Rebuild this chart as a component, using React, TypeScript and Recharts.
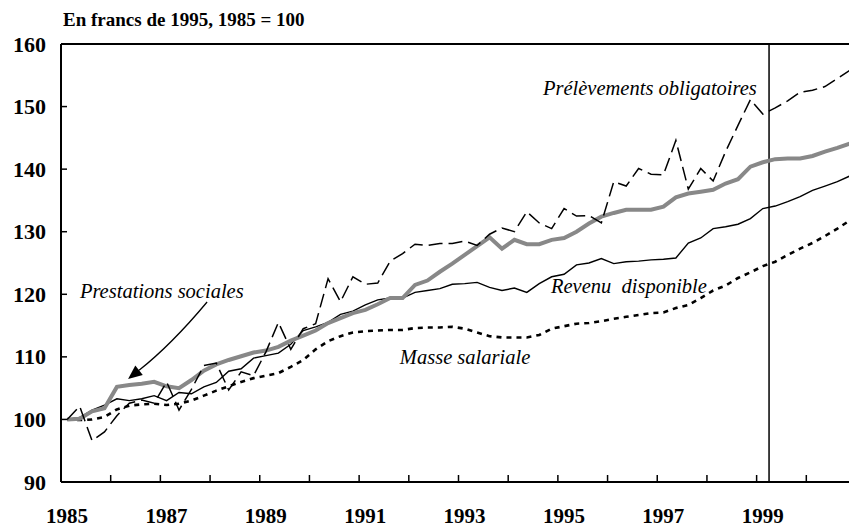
import React from 'react';
import { LineChart, Line, XAxis, YAxis, ReferenceLine, ReferenceDot } from 'recharts';

const years = [1985, 1986, 1987, 1988, 1989, 1990, 1991, 1992, 1993, 1994, 1995, 1996, 1997, 1998, 1999, 2000];
const quarterNames = ['T1', 'T2', 'T3', 'T4'];

const prelevements = [
  100, 102.1, 96.6, 98.0, 100.6, 102.6, 103.1, 102.6, 106.0, 101.5, 104.8, 108.6, 109.0, 104.7, 107.6, 107.0,
  110.8, 115.5, 111.2, 114.5, 115.3, 122.5, 118.8, 122.8, 121.6, 121.8, 125.3, 126.5, 128.0, 127.8, 128.1, 128.1,
  128.5, 127.8, 129.6, 130.6, 130.0, 133.2, 131.4, 130.5, 133.7, 132.5, 132.6, 131.4, 138.0, 137.3, 140.1, 139.2,
  139.1, 144.6, 136.8, 140.1, 138.1, 142.8, 147.0, 151.1, 148.8, 149.8, 150.9, 152.3, 152.6, 153.2, 154.5, 155.8,
];
const revenu = [
  100, 100.3, 101.5, 102.3, 103.3, 103.0, 103.3, 103.8, 103.0, 104.3, 104.1, 105.2, 105.9, 107.7, 108.1, 109.8,
  110.2, 110.6, 112.0, 114.2, 114.8, 115.5, 116.8, 117.3, 118.3, 119.1, 119.4, 119.4, 120.3, 120.6, 120.9, 121.6,
  121.7, 121.9, 121.1, 120.6, 121.0, 120.3, 121.7, 122.8, 123.2, 124.7, 125.0, 125.7, 124.9, 125.2, 125.3, 125.5,
  125.6, 125.8, 128.2, 129.0, 130.5, 130.8, 131.2, 132.1, 133.7, 134.1, 134.8, 135.6, 136.6, 137.3, 138.0, 138.9,
];
const masse = [
  100, 99.9, 100.0, 100.4, 101.6, 102.2, 102.4, 102.5, 102.3, 102.5, 103.0, 103.8, 104.6, 105.3, 106.0, 106.6,
  107.0, 107.4, 108.4, 109.5, 111.2, 112.5, 113.3, 113.9, 114.1, 114.2, 114.3, 114.3, 114.6, 114.7, 114.7, 114.8,
  114.5, 113.9, 113.3, 113.1, 113.1, 113.1, 113.5, 114.5, 114.9, 115.3, 115.4, 115.7, 116.1, 116.4, 116.7, 117.0,
  117.1, 117.8, 118.3, 119.4, 120.6, 121.4, 122.6, 123.5, 124.5, 125.2, 126.3, 127.3, 128.2, 129.3, 130.5, 131.8,
];
const prestations = [
  100, 100.1, 101.3, 101.8, 105.2, 105.5, 105.7, 106.0, 105.3, 105.0, 106.3, 107.8, 108.8, 109.5, 110.1, 110.7,
  111.0, 111.6, 112.6, 113.4, 114.2, 115.4, 116.2, 117.0, 117.5, 118.4, 119.4, 119.4, 121.5, 122.2, 123.6, 124.9,
  126.3, 127.7, 129.1, 127.3, 128.7, 128.0, 128.0, 128.7, 129.0, 130.0, 131.3, 132.4, 133.0, 133.5, 133.5, 133.5,
  134.0, 135.5, 136.1, 136.4, 136.7, 137.7, 138.4, 140.4, 141.1, 141.6, 141.7, 141.7, 142.1, 142.8, 143.4, 144.1,
];

const yTicks = [90, 100, 110, 120, 130, 140, 150, 160];
const xTicks = [1985, 1986, 1987, 1988, 1989, 1990, 1991, 1992, 1993, 1994, 1995, 1996, 1997, 1998, 1999, 2000, 2001];
const xTickLabels = [1985, 1987, 1989, 1991, 1993, 1995, 1997, 1999];
const title = 'En francs de 1995, 1985 = 100';

const quarters = years.flatMap((y) => quarterNames.map((q) => `${y}${q}`));
const data = quarters.map((q, i) => ({
  q,
  t: 1985 + (i + 0.5) / 4,
  prelevements: prelevements[i],
  revenu: revenu[i],
  masse: masse[i],
  prestations: prestations[i],
}));

const FONT = '"Liberation Serif", "Times New Roman", serif';

const annotations = [
  { text: 'Prestations sociales', x: 1985.38, y: 119.4 },
  { text: 'Prélèvements obligatoires', x: 1994.7, y: 151.85 },
  { text: 'Masse salariale', x: 1991.82, y: 108.86 },
  { text: 'Revenu\u00a0 disponible', x: 1994.86, y: 120.25 },
];
const arrowFrom = { x: 1987.94, y: 118.77 };
const arrowTo = { x: 1986.35, y: 106.46 };

const XTick = (props: any) => {
  const { x, y, payload } = props;
  const v = payload.value;
  return (
    <g>
      <line x1={x} x2={x} y1={y} y2={y - 7} stroke="#000" strokeWidth={1.5} />
      {xTickLabels.includes(v) && (
        <text x={x + 6} y={y + 41} textAnchor="middle" fontFamily={FONT} fontWeight="bold" fontSize={21} fill="#000">
          {v}
        </text>
      )}
    </g>
  );
};

const YTick = (props: any) => {
  const { x, y, payload } = props;
  return (
    <g>
      <line x1={x} x2={x + 6} y1={y} y2={y} stroke="#000" strokeWidth={1.5} />
      <text x={x - 15} y={y + 7.5} textAnchor="end" fontFamily={FONT} fontWeight="bold" fontSize={22} fill="#000">
        {payload.value}
      </text>
    </g>
  );
};

const ArrowShape = (props: any) => {
  const { x1, y1, x2, y2 } = props;
  const mx = (x1 + x2) / 2 + 4;
  const my = (y1 + y2) / 2 + 4;
  const ang = Math.atan2(y2 - my, x2 - mx);
  const len = 14;
  const w = 6;
  const bx = x2 - Math.cos(ang) * len;
  const by = y2 - Math.sin(ang) * len;
  const px = -Math.sin(ang) * w;
  const py = Math.cos(ang) * w;
  return (
    <g>
      <path d={`M${x1},${y1} Q${mx},${my} ${bx},${by}`} fill="none" stroke="#000" strokeWidth={1.3} />
      <path d={`M${x2},${y2} L${bx + px},${by + py} L${bx - px},${by - py} Z`} fill="#000" />
    </g>
  );
};

const makeLabel = (text: string) => (props: any) => (
  <text x={props.cx} y={props.cy} fontFamily={FONT} fontStyle="italic" fontSize={20.5} fill="#000">
    {text}
  </text>
);

export default function App() {
  return (
    <div style={{ position: 'absolute', left: 0, top: 0, width: 849, height: 529, overflow: 'hidden', background: '#fff' }}>
      <svg style={{ position: 'absolute', left: 0, top: 0 }} width={849} height={40}>
        <text x={63} y={26} fontFamily={FONT} fontWeight="bold" fontSize={19} fill="#000">
          {title}
        </text>
      </svg>
      <LineChart width={870} height={529} data={data} margin={{ top: 44, right: 14, bottom: 0, left: 0 }}>
        <XAxis
          dataKey="t"
          type="number"
          domain={[1985, 2001]}
          ticks={xTicks}
          interval={0}
          height={47}
          tickSize={0}
          tickMargin={0}
          tickLine={false}
          axisLine={{ stroke: '#000', strokeWidth: 2 }}
          tick={<XTick />}
        />
        <YAxis
          type="number"
          domain={[90, 160]}
          ticks={yTicks}
          interval={0}
          width={61}
          tickSize={0}
          tickMargin={0}
          tickLine={false}
          axisLine={{ stroke: '#000', strokeWidth: 2 }}
          tick={<YTick />}
        />
        <ReferenceLine y={160} stroke="#000" strokeWidth={2} />
        <ReferenceLine x={2001} stroke="#000" strokeWidth={2} />
        <ReferenceLine x={1999.25} stroke="#000" strokeWidth={1.5} />
        <Line dataKey="masse" stroke="#000" strokeWidth={2.6} strokeDasharray="5 5" dot={false} isAnimationActive={false} />
        <Line dataKey="revenu" stroke="#000" strokeWidth={1.4} dot={false} isAnimationActive={false} />
        <Line dataKey="prestations" stroke="#888" strokeWidth={4} dot={false} isAnimationActive={false} />
        <Line dataKey="prelevements" stroke="#000" strokeWidth={1.5} strokeDasharray="14 6" dot={false} isAnimationActive={false} />
        <ReferenceLine
          segment={[{ x: arrowFrom.x, y: arrowFrom.y }, { x: arrowTo.x, y: arrowTo.y }]}
          shape={ArrowShape}
          ifOverflow="visible"
        />
        {annotations.map((a) => (
          <ReferenceDot key={a.text} x={a.x} y={a.y} r={1} ifOverflow="visible" shape={makeLabel(a.text)} />
        ))}
      </LineChart>
    </div>
  );
}
